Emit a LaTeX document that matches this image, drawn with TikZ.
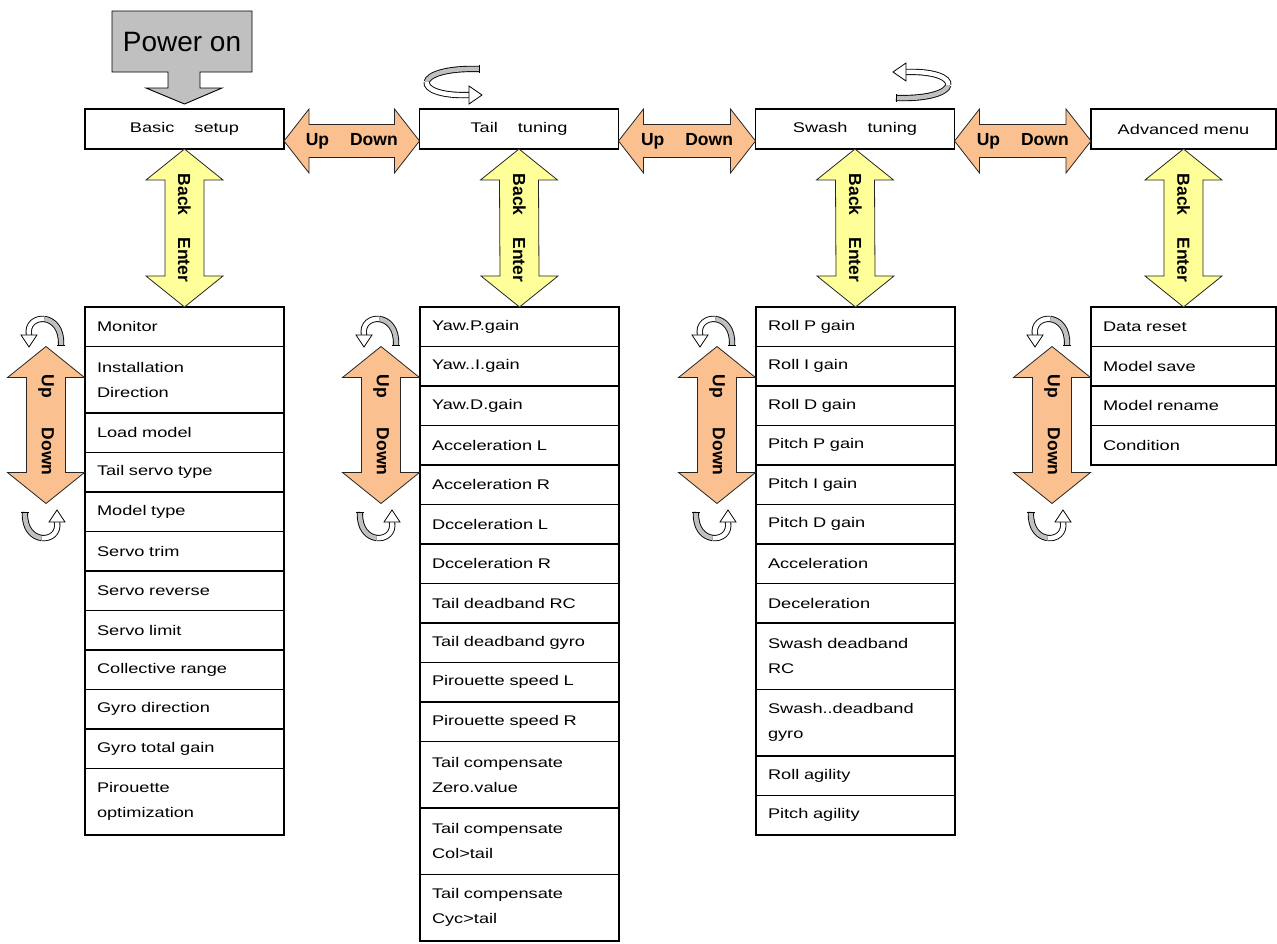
\documentclass[tikz,border=0pt]{standalone}
\usepackage{fontspec}
\setmainfont{Liberation Sans}
\newfontfamily\wideface[FakeStretch=1.3]{Liberation Sans}
\usetikzlibrary{calc}

\definecolor{updowncol}{RGB}{250,192,143}
\definecolor{backcol}{RGB}{255,255,153}
\definecolor{powercol}{RGB}{192,192,192}

\newcommand\itemfont{\wideface\fontsize{14}{25}\selectfont}

\tikzset{
  box/.style={draw, line width=1.2pt, inner sep=0pt, outer sep=0pt, minimum height=40pt, minimum width=199pt, font=\itemfont},
  row/.style={draw, line width=1.2pt, anchor=north west, outer sep=0pt, inner xsep=12pt, inner ysep=0pt, text width=175pt, align=left, minimum height=39.5pt, font=\itemfont},
  tall/.style={row, minimum height=66.5pt},
  arrowtext/.style={font=\bfseries\fontsize{17.5}{20}\selectfont, inner sep=0pt},
  updown/.style={draw=black!85, line width=0.8pt, fill=updowncol},
  backenter/.style={draw=black!85, line width=0.8pt, fill=backcol},
  band/.style={line width=0.9pt, double distance=4.5pt},
  turnh/.pic={
    \draw[band, double=powercol] (28,14) .. controls (-6,15) and (-23,8) .. (-24.25,1);
    \draw[band, double=white] (-24.25,1) .. controls (-25.5,-6) and (-11,-13) .. (18,-12);
    \draw[line width=0.9pt] (28,10.4) -- (28,17.6);
    \draw[fill=white, line width=0.8pt] (18,-21) -- (31,-12) -- (18,-3) -- cycle;
  },
  turnv/.pic={
    \draw[band, double=powercol] (18,-12) .. controls (19,5) and (10,13) .. (1.25,14);
    \draw[band, double=white] (1.25,14) .. controls (-7.5,15) and (-16,9) .. (-14,-2);
    \draw[line width=0.9pt] (14.4,-12) -- (21.6,-12);
    \draw[fill=white, line width=0.8pt] (-22,-2) -- (-14,-14) -- (-6,-2) -- cycle;
  },
}

% horizontal Up/Down arrow between two menu boxes
\newcommand\hdouble[2]{%
  \draw[updown] ($(#1.east)+(0,-12)$) -- ++(25,32) -- ++(0,-15.5) -- ($(#2.west)+(-25,4.5)$) -- ++(0,15.5)
    -- ($(#2.west)+(0,-12)$) -- ++(-25,-32) -- ++(0,15.5) -- ($(#1.east)+(25,-28.5)$) -- ++(0,-15.5) -- cycle;
  \path ($(#1.east)+(0,-12)$) -- ($(#2.west)+(0,-12)$) node[midway, arrowtext] {Up\hspace{21pt}Down};
}
% vertical double arrow: top tip, bottom tip, style, label
\newcommand\vdouble[4]{%
  \draw[#3] (#1) -- ++(38.5,-31) -- ++(-19,0) -- ($(#2)+(19.5,31)$) -- ++(19,0) -- (#2)
    -- ++(-38.5,31) -- ++(19,0) -- ($(#1)+(-19.5,-31)$) -- ++(-19,0) -- cycle;
  \path (#1) -- (#2) node[midway, arrowtext, rotate=-90] {#4};
}

\begin{document}
\begin{tikzpicture}[x=1pt, y=1pt]
\useasboundingbox (0,0) rectangle (1277,-943);

% menu
\node[box] (basic) at (184.5,-129) {Basic\hspace{20pt}setup};
\node[box] (tail) at (519,-129) {Tail\hspace{20pt}tuning};
\node[box] (swash) at (855,-129) {Swash\hspace{20pt}tuning};
\node[box, minimum width=185pt] (adv) at (1183.5,-129) {Advanced menu};

% power on
\draw[fill=powercol, line width=0.9pt] (112,-11) -- (252,-11) -- (252,-72) -- (200,-72) -- (200,-88) -- (222,-88)
  -- ($(basic.north)+(0,5)$) -- (146,-88) -- (168,-88) -- (168,-72) -- (112,-72) -- cycle;
\node[font=\fontsize{28}{30}\selectfont, inner sep=0pt] (power) at (182,-42) {Power on};

\pic at (451,-83) {turnh};
\pic[rotate=180] at (924,-84) {turnh};

% basic setup
\node[row] (b1) at (85,-307) {Monitor};
\node[tall] (b2) at (85,-346.5) {Installation\\Direction};
\node[row] (b3) at (85,-413) {Load model};
\node[row] (b4) at (85,-452.5) {Tail servo type};
\node[row] (b5) at (85,-492) {Model type};
\node[row] (b6) at (85,-531.5) {Servo trim};
\node[row] (b7) at (85,-571) {Servo reverse};
\node[row] (b8) at (85,-610.5) {Servo limit};
\node[row] (b9) at (85,-650) {Collective range};
\node[row] (b10) at (85,-689.5) {Gyro direction};
\node[row] (b11) at (85,-729) {Gyro total gain};
\node[tall] (b12) at (85,-768.5) {Pirouette\\optimization};

% tail tuning
\node[row] (t1) at (420,-307) {Yaw.P.gain};
\node[row] (t2) at (420,-346.5) {Yaw..I.gain};
\node[row] (t3) at (420,-386) {Yaw.D.gain};
\node[row] (t4) at (420,-425.5) {Acceleration L};
\node[row] (t5) at (420,-465) {Acceleration R};
\node[row] (t6) at (420,-504.5) {Dcceleration L};
\node[row] (t7) at (420,-544) {Dcceleration R};
\node[row] (t8) at (420,-583.5) {Tail deadband RC};
\node[row] (t9) at (420,-623) {Tail deadband gyro};
\node[row] (t10) at (420,-662.5) {Pirouette speed L};
\node[row] (t11) at (420,-702) {Pirouette speed R};
\node[tall] (t12) at (420,-741.5) {Tail compensate\\Zero.value};
\node[tall] (t13) at (420,-808) {Tail compensate\\Col>tail};
\node[tall] (t14) at (420,-874.5) {Tail compensate\\Cyc>tail};

% swash tuning
\node[row] (s1) at (756,-307) {Roll P gain};
\node[row] (s2) at (756,-346.5) {Roll I gain};
\node[row] (s3) at (756,-386) {Roll D gain};
\node[row] (s4) at (756,-425.5) {Pitch P gain};
\node[row] (s5) at (756,-465) {Pitch I gain};
\node[row] (s6) at (756,-504.5) {Pitch D gain};
\node[row] (s7) at (756,-544) {Acceleration};
\node[row] (s8) at (756,-583.5) {Deceleration};
\node[tall] (s9) at (756,-623) {Swash deadband\\RC};
\node[tall] (s10) at (756,-689.5) {Swash..deadband\\gyro};
\node[row] (s11) at (756,-756) {Roll agility};
\node[row] (s12) at (756,-795.5) {Pitch agility};

% advanced menu
\node[row, text width=161pt] (a1) at (1091,-307) {Data reset};
\node[row, text width=161pt] (a2) at (1091,-346.5) {Model save};
\node[row, text width=161pt] (a3) at (1091,-386) {Model rename};
\node[row, text width=161pt] (a4) at (1091,-425.5) {Condition};

% up / down between menus
\hdouble{basic}{tail}
\hdouble{tail}{swash}
\hdouble{swash}{adv}

% back / enter
\vdouble{basic.south}{b1.north}{backenter}{Back\hspace{22pt}Enter}
\vdouble{tail.south}{t1.north}{backenter}{Back\hspace{22pt}Enter}
\vdouble{swash.south}{s1.north}{backenter}{Back\hspace{22pt}Enter}
\vdouble{adv.south}{a1.north}{backenter}{Back\hspace{22pt}Enter}

% up / down inside lists
\coordinate (bu) at ($(b1.south west)+(-39,0)$);
\coordinate (bd) at ($(bu)+(0,-157)$);
\coordinate (tu) at ($(t1.south west)+(-39,0)$);
\coordinate (td) at ($(tu)+(0,-157)$);
\coordinate (su) at ($(s1.south west)+(-39,0)$);
\coordinate (sd) at ($(su)+(0,-157)$);
\coordinate (au) at ($(a1.south west)+(-39,0)$);
\coordinate (ad) at ($(au)+(0,-157)$);
\vdouble{bu}{bd}{updown}{Up\hspace{30pt}Down}
\vdouble{tu}{td}{updown}{Up\hspace{30pt}Down}
\vdouble{su}{sd}{updown}{Up\hspace{30pt}Down}
\vdouble{au}{ad}{updown}{Up\hspace{30pt}Down}

\pic at (43,-333) {turnv};
\pic[rotate=180] at (43,-524) {turnv};
\pic at (378,-333) {turnv};
\pic[rotate=180] at (378,-524) {turnv};
\pic at (714,-333) {turnv};
\pic[rotate=180] at (714,-524) {turnv};
\pic at (1049,-333) {turnv};
\pic[rotate=180] at (1049,-524) {turnv};
\end{tikzpicture}
\end{document}
